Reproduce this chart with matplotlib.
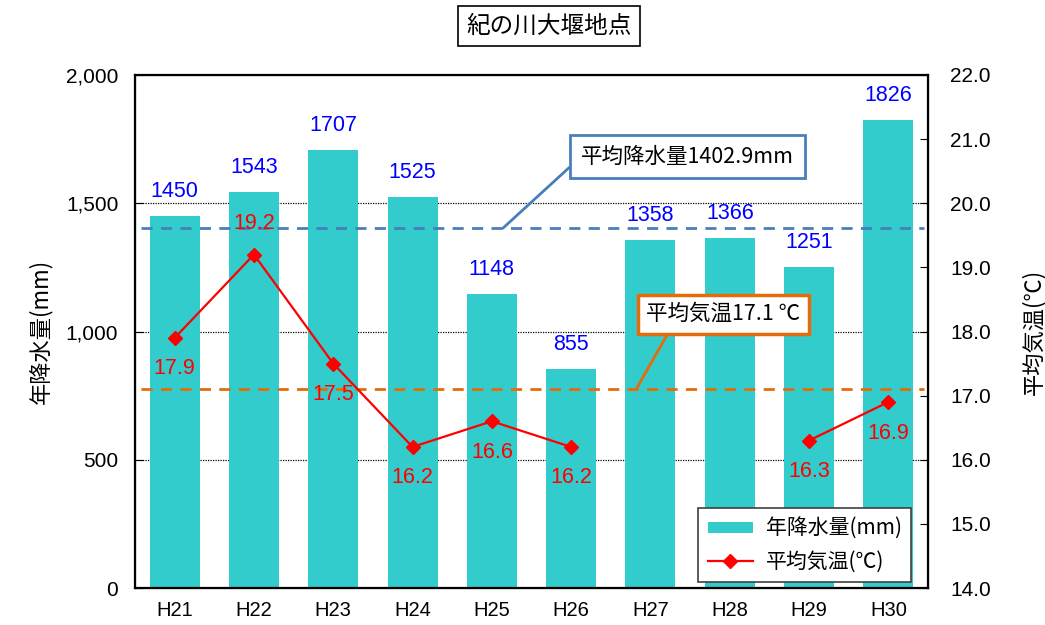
import numpy as np
import matplotlib
matplotlib.use("Agg")
import matplotlib.pyplot as plt
from matplotlib.patches import Patch
from matplotlib.lines import Line2D

plt.rcParams['font.family'] = ['Liberation Sans', 'Noto Sans CJK JP', 'DejaVu Sans']
JP = ['Noto Sans CJK JP', 'Liberation Sans', 'DejaVu Sans']

# Annual data at the Kinokawa weir
years = ['H21', 'H22', 'H23', 'H24', 'H25', 'H26', 'H27', 'H28', 'H29', 'H30']
rainfall = [1450, 1543, 1707, 1525, 1148, 855, 1358, 1366, 1251, 1826]
temperature = [17.9, 19.2, 17.5, 16.2, 16.6, 16.2, np.nan, np.nan, 16.3, 16.9]
temp_label_side = ['below', 'above', 'below', 'below', 'below', 'below',
                   None, None, 'below', 'below']
avg_rain = 1402.9
avg_temp = 17.1

W, H = 1045, 625
fig = plt.figure(figsize=(W / 100, H / 100), dpi=100)
ax = fig.add_axes([135 / W, (H - 588) / H, (928 - 135) / W, (588 - 75) / H])
x = np.arange(len(years))

# Rainfall bars
ax.bar(x, rainfall, width=0.63, color='#33CCCC', zorder=2)
ax.set_xlim(-0.5, len(years) - 0.5)
ax.set_ylim(0, 2000)
ax.set_yticks([0, 500, 1000, 1500, 2000])
ax.set_yticklabels([f'{v:,}' for v in [0, 500, 1000, 1500, 2000]])
ax.set_xticks(x)
ax.set_xticklabels(years)
ax.tick_params(axis='y', direction='in', length=6, labelsize=15, pad=12)
ax.tick_params(axis='x', length=0, labelsize=14.5, pad=9)
for v in [500, 1000, 1500]:
    ax.axhline(v, color='black', lw=0.9, ls=(0, (1, 1)), zorder=1)
for s in ax.spines.values():
    s.set_linewidth(1.6)
ax.set_ylabel('年降水量(mm)', family=JP, fontsize=16, labelpad=10)

for xi, v in zip(x, rainfall):
    ax.annotate(str(v), (xi, v), xytext=(0, 14), textcoords='offset pixels',
                ha='center', va='bottom', color='#0000FF', fontsize=15.5, zorder=5)

# Average rainfall line
ax.hlines(avg_rain, -0.42, 9.45, colors='#4A7EBB', lw=2, ls=(0, (4, 3)), zorder=3)

# Temperature on the secondary axis
ax2 = ax.twinx()
ax2.set_ylim(14, 22)
ax2.set_yticks(np.arange(14, 22.1, 1.0))
ax2.set_yticklabels([f'{v:.1f}' for v in np.arange(14, 22.1, 1.0)])
ax2.tick_params(axis='y', direction='in', length=6, labelsize=15, pad=16)
ax2.set_ylabel('平均気温(℃)', family=JP, fontsize=16, labelpad=22)
ax2.plot(x, temperature, color='#FF0000', lw=1.6, marker='D', markersize=7,
         zorder=4)
for xi, t, side in zip(x, temperature, temp_label_side):
    if side is None:
        continue
    off = 31 if side == 'above' else -31
    ax2.annotate(f'{t:.1f}', (xi, t), xytext=(0, off), textcoords='offset pixels',
                 ha='center', va='center', color='#FF0000', fontsize=15.5, zorder=5)

ax2.hlines(avg_temp, -0.42, 9.45, colors='#E46C0A', lw=2, ls=(0, (4, 3)), zorder=3)

# Callouts for the average lines
ax.annotate('平均降水量1402.9mm', xy=(4.14, avg_rain), xytext=(6.47, 1682),
            ha='center', va='center', fontsize=15.5, family=JP, zorder=6,
            bbox=dict(boxstyle='square,pad=0.5', fc='white', ec='#4A7EBB', lw=2),
            arrowprops=dict(arrowstyle='-', color='#4A7EBB', lw=2,
                            relpos=(0, 0.5), shrinkA=0, shrinkB=0))
ax2.annotate('平均気温17.1 ℃', xy=(5.82, avg_temp), xytext=(6.92, 18.27),
             ha='center', va='center', fontsize=15.5, family=JP, zorder=6,
             bbox=dict(boxstyle='square,pad=0.4', fc='white', ec='#E46C0A', lw=2.5),
             arrowprops=dict(arrowstyle='-', color='#E46C0A', lw=2,
                             relpos=(0.17, 0), shrinkA=0, shrinkB=0))

# Legend
handles = [Patch(facecolor='#33CCCC', edgecolor='none', label='年降水量(mm)'),
           Line2D([], [], color='#FF0000', lw=1.6, marker='D', markersize=7,
                  label='平均気温(℃)')]
leg = ax2.legend(handles=handles, loc='lower right',
                 bbox_to_anchor=(0.992, -0.008),
                 fancybox=False, edgecolor='#404040', framealpha=1,
                 prop=dict(family=JP, size=15), handlelength=2.2,
                 handleheight=0.5, handletextpad=0.6, borderpad=0.45,
                 labelspacing=0.5)
leg.get_frame().set_linewidth(1.2)
leg.set_zorder(7)

# Title
fig.text(549 / W, (H - 26) / H, '紀の川大堰地点', ha='center', va='center',
         fontsize=17, family=JP,
         bbox=dict(boxstyle='square,pad=0.35', fc='white', ec='black', lw=1.2))

fig.savefig('out.png', dpi=100)
